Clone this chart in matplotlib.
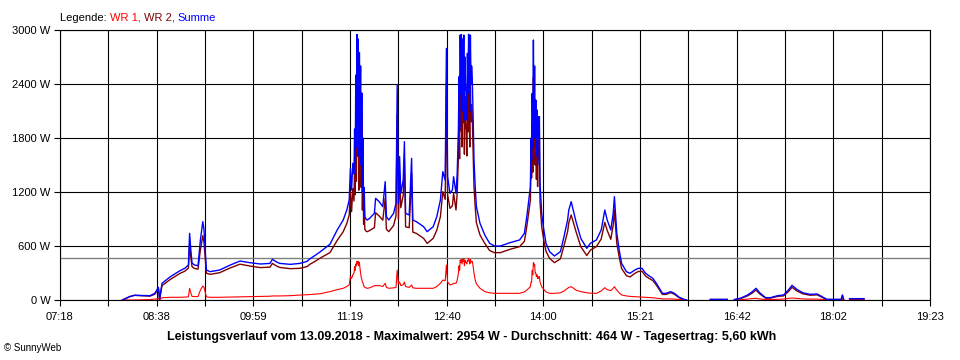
import numpy as np
import matplotlib
matplotlib.use("Agg")
import matplotlib.pyplot as plt
from matplotlib.offsetbox import TextArea, HPacker, AnchoredOffsetbox

nan = np.nan
# time in minutes after midnight
time_min = [490, 496, 500, 513, 517, 520, 521, 523, 530, 538, 542, 545, 546, 547, 548, 550, 553, 555, 557, 558,
            560, 563, 571, 580, 588, 596, 605, 613, 615, 618, 621, 630, 638, 644, 646, 650, 655, 663, 669, 674, 677,
            679, 680, 681, 682, 683, 683.5, 684, 684.5, 685, 685.5, 686, 686.5, 687, 687.5, 688, 688.5, 689, 689.5,
            690, 690.5, 691, 691.5, 692, 693, 694, 696, 700, 701, 704,
            707, 709, 710, 712, 716, 718, 719, 720, 721, 722, 724, 725, 726, 729, 731, 732, 735, 741, 744, 749,
            752, 755, 757, 759, 760, 761, 763, 765, 766, 768, 769,
            770, 770.5, 771, 771.5, 772, 772.5, 773, 773.5, 774, 774.5, 775, 775.5, 776, 776.5, 777, 777.5,
            778, 778.5, 779, 779.5, 780, 780.5, 781, 781.5, 782, 783, 784, 785, 788, 792, 796, 800, 805, 813, 821,
            825, 827, 830, 830.5, 831, 831.5, 832, 832.5, 833, 833.5, 834, 834.5, 835, 835.5, 836, 836.5, 837, 837.5,
            838, 839.4, 841, 843, 846, 850, 855, 858, 861, 862, 864, 866, 868, 872, 877, 880, 885,
            889, 892, 894, 897, 899, 900, 902, 904, 906, 910, 913, 917, 920, 923, 926, 929, 932, 935, 940, 943,
            947, 950, 954, 958, 960, 970, 980, 994, 997, 1000, 1005, 1011, 1015, 1018, 1021, 1026, 1030, 1036, 1041,
            1045, 1048, 1052, 1057, 1063, 1069, 1073, 1077, 1082, 1089, 1090, 1091, 1093, 1096, 1108]

summe = [0, 37, 52, 48, 74, 141, 10, 185, 259, 326, 352, 389, 741, 560, 411, 389, 381, 667, 870, 780,
         333, 315, 333, 389, 433, 415, 400, 407, 452, 426, 407, 396, 407, 430, 455, 490, 537, 620, 778, 889, 1000,
         1111, 1463, 1222, 1519, 1400, 1900, 1500, 2500, 1700, 2950, 2000, 2900, 1600, 2750, 2000, 2600, 1500, 2300,
         1200, 1800, 1000, 1250, 926, 900, 889, 907, 963, 1130, 1093,
         1037, 1315, 926, 889, 963, 1074, 2389, 1074, 1593, 1185, 1333, 1759, 963, 944, 1574, 889, 870, 815, 759, 815,
         926, 1111, 1426, 1333, 2796, 1370, 1185, 1222, 1370, 1185, 1407,
         1889, 2481, 1900, 2944, 2300, 2950, 2100, 2900, 2400, 2944, 2000, 2700, 2333, 2370, 2000, 2741,
         2300, 2954, 2481, 2100, 2944, 2400, 2600, 2481, 2200, 1556, 1259, 1037, 852, 722, 630, 600, 600, 637, 667,
         741, 926, 1259, 1800, 1556, 2296, 1700, 2889, 1900, 2600, 1800, 2222, 1600, 2111, 1500, 2037, 1800, 2037,
         1296, 963, 796, 630, 537, 489, 537, 704, 889, 1000, 1093, 981, 870, 685, 574, 630, 667,
         778, 1000, 889, 778, 963, 1148, 741, 556, 407, 315, 296, 333, 352, 352, 296, 267, 241, 185, 74, 74,
         93, 74, 30, 7, 0, nan, 7, 7, nan, 5, 19, 56, 93, 130, 81, 26, 26, 48, 56,
         111, 163, 119, 81, 63, 67, 37, 7, 7, 7, 56, 7, nan, 15, 15]

wr1 = [0, 0, 0, 5, 10, 15, 5, 25, 30, 30, 32, 35, 130, 80, 40, 38, 38, 110, 155, 140,
       35, 30, 30, 32, 35, 37, 40, 42, 45, 45, 45, 48, 55, 58, 60, 65, 70, 93, 115, 130, 150,
       167, 260, 240, 280, 300, 370, 330, 400, 380, 430, 400, 430, 380, 420, 350, 300, 250, 230,
       200, 190, 160, 150, 140, 135, 130, 135, 159, 160, 160,
       150, 185, 140, 130, 135, 140, 333, 180, 200, 160, 170, 200, 150, 140, 167, 135, 130, 130, 130, 130,
       150, 185, 222, 215, 389, 200, 167, 175, 185, 185, 220,
       296, 380, 330, 444, 420, 450, 400, 450, 430, 460, 380, 440, 420, 420, 400, 440,
       430, 460, 440, 400, 450, 420, 430, 430, 400, 300, 222, 180, 130, 93, 80, 74, 74, 74, 74,
       90, 110, 148, 200, 200, 330, 280, 415, 380, 400, 300, 300, 260, 280, 240, 259, 240, 259,
       200, 148, 120, 90, 74, 74, 80, 100, 130, 140, 148, 130, 110, 93, 80, 76, 74,
       100, 137, 115, 104, 130, 148, 110, 80, 56, 45, 40, 37, 35, 33, 30, 28, 25, 20, 12, 12,
       12, 10, 5, 2, 0, nan, 2, 2, nan, 1, 3, 10, 15, 19, 12, 5, 5, 8, 10,
       18, 22, 18, 12, 10, 10, 6, 2, 2, 2, 5, 2, nan, 3, 3]

t = np.array(time_min, dtype=float)
s = np.array(summe, dtype=float)
w1 = np.array(wr1, dtype=float)
w2 = s - w1

avg_w = 464
y_ticks = [0, 600, 1200, 1800, 2400, 3000]
y_labels = ["0 W", "600 W", "1200 W", "1800 W", "2400 W", "3000 W"]
x_start, x_end = 438, 1163
x_labels = ["07:18", "08:38", "09:59", "11:19", "12:40", "14:00", "15:21", "16:42", "18:02", "19:23"]
title = "Leistungsverlauf vom 13.09.2018 - Maximalwert: 2954 W - Durchschnitt: 464 W - Tagesertrag: 5,60 kWh"

FONT = "Liberation Sans"
plt.rcParams['font.family'] = [FONT, 'DejaVu Sans']

fig = plt.figure(figsize=(9.6, 3.6), dpi=100)
fig.patch.set_facecolor("white")
ax = fig.add_axes([60/960, 1 - 300/360, 870/960, 270/360])

ax.plot(t, w1, color="#ff0000", lw=0.8, zorder=3)
ax.plot(t, w2, color="#800000", lw=1.0, zorder=4)
ax.plot(t, s, color="#0000ff", lw=1.0, zorder=5)
ax.axhline(avg_w, color="#808080", lw=1.0, zorder=2)

ax.set_xlim(x_start, x_end)
ax.set_ylim(0, 3000)
xt = np.linspace(x_start, x_end, 19)
ax.set_xticks(xt)
lbls = []
for i in range(19):
    lbls.append(x_labels[i // 2] if i % 2 == 0 else "")
ax.set_xticklabels(lbls)
ax.set_yticks(y_ticks)
ax.set_yticklabels(y_labels)
ax.tick_params(axis="both", direction="out", length=4, width=0.8, color="black",
               labelsize=8, pad=3)
ax.tick_params(axis="x", pad=5)
ax.grid(True, color="black", lw=0.8, zorder=1)
ax.set_axisbelow(True)
for sp in ax.spines.values():
    sp.set_color("black")
    sp.set_linewidth(0.8)

parts = [("Legende: ", "black"), ("WR 1, ", "#ff0000"), ("WR 2, ", "#800000"), ("Summe", "#0000ff")]
boxes = [TextArea(p, textprops=dict(color=c, size=8, family=FONT)) for p, c in parts]
pack = HPacker(children=boxes, align="baseline", pad=0, sep=0)
anch = AnchoredOffsetbox(loc="lower left", child=pack, pad=0, frameon=False, borderpad=0,
                         bbox_to_anchor=(60/960, 1 - 23/360), bbox_transform=fig.transFigure)
fig.add_artist(anch)

fig.text(472/960, 1 - 337/360, title, ha="center", va="center", fontsize=9, fontweight="bold")
fig.text(4/960, 1 - 348/360, "\u00a9 SunnyWeb", ha="left", va="center", fontsize=7)

fig.savefig("out.png", dpi=100, facecolor="white")
